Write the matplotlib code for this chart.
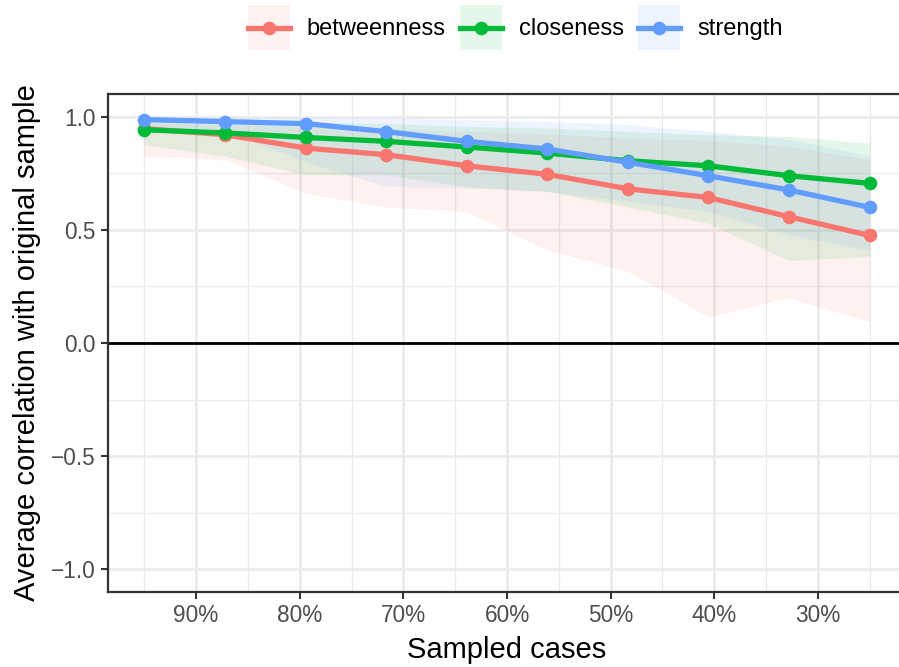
import matplotlib
matplotlib.use("Agg")
import matplotlib.pyplot as plt
from matplotlib.lines import Line2D
from matplotlib.patches import Patch
from matplotlib.legend_handler import HandlerLine2D
from matplotlib.ticker import FixedLocator, FuncFormatter

plt.rcParams['font.family'] = ['Liberation Sans', 'DejaVu Sans']

# Proportion of cases retained in each subsample (%)
sampled = [95.0, 87.2, 79.4, 71.7, 63.9, 56.1, 48.3, 40.6, 32.8, 25.0]

# Mean correlation with the full-sample centrality, plus 2.5% / 97.5% quantiles
betweenness_mean = [0.947, 0.920, 0.861, 0.832, 0.783, 0.745, 0.681, 0.643, 0.558, 0.475]
betweenness_low = [0.825, 0.810, 0.662, 0.600, 0.581, 0.410, 0.316, 0.116, 0.200, 0.094]
betweenness_high = [0.975, 0.965, 0.955, 0.945, 0.935, 0.925, 0.905, 0.895, 0.870, 0.810]

closeness_mean = [0.942, 0.928, 0.908, 0.891, 0.866, 0.839, 0.805, 0.783, 0.739, 0.705]
closeness_low = [0.876, 0.825, 0.743, 0.743, 0.690, 0.670, 0.600, 0.529, 0.364, 0.382]
closeness_high = [0.985, 0.980, 0.975, 0.970, 0.957, 0.950, 0.935, 0.920, 0.913, 0.883]

strength_mean = [0.987, 0.978, 0.969, 0.934, 0.891, 0.857, 0.798, 0.739, 0.676, 0.599]
strength_low = [0.955, 0.940, 0.800, 0.692, 0.684, 0.670, 0.625, 0.581, 0.478, 0.410]
strength_high = [0.998, 0.997, 0.995, 0.994, 0.987, 0.979, 0.965, 0.935, 0.900, 0.827]

measures = ["betweenness", "closeness", "strength"]
colors = ["#F8766D", "#00BA38", "#619CFF"]
means = [betweenness_mean, closeness_mean, strength_mean]
lows = [betweenness_low, closeness_low, strength_low]
highs = [betweenness_high, closeness_high, strength_high]

x_major = [90, 80, 70, 60, 50, 40, 30]
x_minor = [95, 85, 75, 65, 55, 45, 35, 25]
y_major = [-1.0, -0.5, 0.0, 0.5, 1.0]
y_minor = [-0.75, -0.25, 0.25, 0.75]


class CenteredLine(HandlerLine2D):
    """Legend line drawn through the vertical centre of the key box."""

    def create_artists(self, legend, orig_handle, xdescent, ydescent,
                       width, height, fontsize, trans):
        artists = super().create_artists(legend, orig_handle, xdescent, ydescent,
                                          width, height, fontsize, trans)
        yc = height / 2 - ydescent
        for a in artists:
            a.set_ydata([yc] * len(a.get_xdata()))
        return artists


W, H = 899, 667
fig = plt.figure(figsize=(W / 100, H / 100), dpi=100)
ax = fig.add_axes([108 / W, 1 - 592 / H, 798 / W, 498 / H])

grid_col = "#EBEBEB"
for v in x_minor:
    ax.axvline(v, color=grid_col, lw=1.0, zorder=0)
for v in y_minor:
    ax.axhline(v, color=grid_col, lw=1.0, zorder=0)
for v in x_major:
    ax.axvline(v, color=grid_col, lw=2.0, zorder=0)
for v in y_major:
    ax.axhline(v, color=grid_col, lw=2.0, zorder=0)

ax.axhline(0, color="black", lw=2.0, zorder=1)

for lo, hi, c in zip(lows, highs, colors):
    ax.fill_between(sampled, lo, hi, color=c, alpha=0.1, lw=0, zorder=2)

for m, c in zip(means, colors):
    ax.plot(sampled, m, color=c, lw=3.8, marker="o", markersize=9.8,
            markeredgewidth=0, zorder=3)

ax.set_xlim(98.5, 21.5)
ax.set_ylim(-1.1, 1.1)
ax.xaxis.set_major_locator(FixedLocator(x_major))
ax.yaxis.set_major_locator(FixedLocator(y_major))
ax.xaxis.set_major_formatter(FuncFormatter(lambda v, p: f"{int(round(v))}%"))
ax.yaxis.set_major_formatter(FuncFormatter(lambda v, p: f"{v:.1f}".replace("-", "\u2212")))
ax.tick_params(axis="both", length=5, width=1.5, color="#333333",
               labelsize=16.3, labelcolor="#4D4D4D", pad=4)

for s in ax.spines.values():
    s.set_color("#333333")
    s.set_linewidth(1.6)

ax.set_xlabel("Sampled cases", fontsize=21, labelpad=6)
ax.set_ylabel("Average correlation with original sample", fontsize=21, labelpad=7)

handles = [(Patch(facecolor=c, alpha=0.1, edgecolor="none"),
            Line2D([], [], color=c, lw=3.8, marker="o", markersize=9.8, markeredgewidth=0))
           for c in colors]
fig.legend(handles, measures, loc="center", bbox_to_anchor=(515 / W, 1 - 27.5 / H),
           ncol=3, frameon=False, fontsize=17, handlelength=1.8, handleheight=2.5,
           handletextpad=0.7, columnspacing=0.6, borderaxespad=0, numpoints=1,
           handler_map={Line2D: CenteredLine()})

fig.savefig("out.png", dpi=100)
